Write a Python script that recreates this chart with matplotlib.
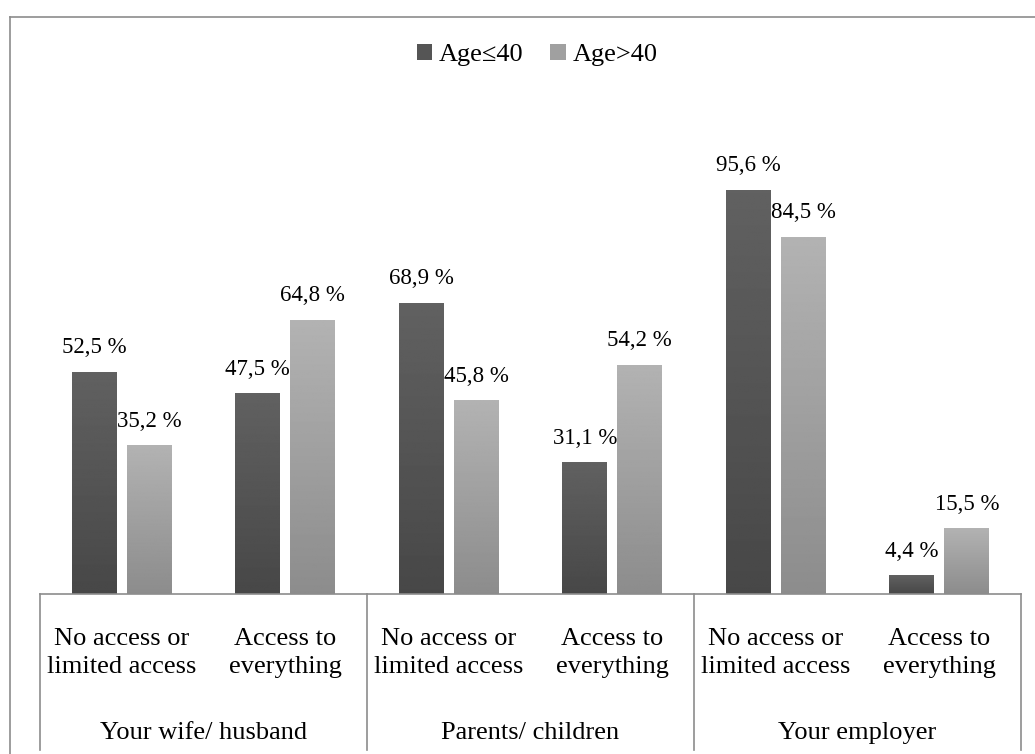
import numpy as np
import matplotlib
matplotlib.use("Agg")
from matplotlib import pyplot as plt
from matplotlib.lines import Line2D
from matplotlib.patches import Patch

plt.rcParams['font.family'] = ['Liberation Serif', 'DejaVu Serif']

# data
groups = ["Your wife/ husband", "Parents/ children", "Your employer"]
subcats = ["No access or\nlimited access", "Access to\neverything"] * 3
series_names = ["Age\u226440", "Age>40"]
young = [52.5, 47.5, 68.9, 31.1, 95.6, 4.4]
old = [35.2, 64.8, 45.8, 54.2, 84.5, 15.5]

W, H = 1035, 754
fig = plt.figure(figsize=(W / 100, H / 100), dpi=100)

# axes in pixel positions: x 40..1021, baseline y=594, 100% at y=171
ax = fig.add_axes([40 / W, 1 - 594 / H, (1021 - 40) / W, (594 - 171) / H])
ax.patch.set_alpha(0)

bw = 0.275
off = bw / 2 + 0.031
x = np.arange(len(young))

def grad_bars(xs, vals, top, bottom):
    bars = ax.bar(xs, vals, bw, color="none", edgecolor="none")
    grad = np.linspace(top, bottom, 256).reshape(-1, 1)
    for b in bars:
        x0, y0 = b.get_x(), b.get_y()
        im = ax.imshow(grad, cmap="gray", vmin=0, vmax=1, aspect="auto",
                       extent=[x0, x0 + b.get_width(), y0, y0 + b.get_height()],
                       origin="upper", zorder=2)
        im.set_clip_path(b)
    return bars

grad_bars(x - off, young, 0.38, 0.28)
grad_bars(x + off, old, 0.70, 0.55)
ax.set_xlim(-0.5, 5.5)
ax.set_ylim(0, 100)

for xi, v in zip(x - off, young):
    ax.text(xi, v + 3.2, f"{v:.1f} %".replace(".", ","), ha="center", va="bottom", fontsize=16.5)
for xi, v in zip(x + off, old):
    ax.text(xi, v + 3.2, f"{v:.1f} %".replace(".", ","), ha="center", va="bottom", fontsize=16.5)

for s in ["top", "right", "left"]:
    ax.spines[s].set_visible(False)
ax.spines["bottom"].set_color("#8c8c8c")
ax.spines["bottom"].set_linewidth(1.2)
ax.set_xticks([])
ax.set_yticks([])

# multi-level category axis
px = 100 / 423  # % per pixel
for sx in [-0.5, 1.5, 3.5, 5.5]:
    ax.plot([sx, sx], [0, -(750 - 594) * px], color="#8c8c8c", lw=1.2, clip_on=False)
for xi, lab in zip(x, subcats):
    ax.text(xi, -(653 - 594) * px, lab, ha="center", va="center", fontsize=19, linespacing=1.3)
for gi, g in enumerate(groups):
    ax.text(2 * gi + 0.5, -(733 - 594) * px, g, ha="center", va="center", fontsize=19)

# legend
handles = [Patch(facecolor="#555555"), Patch(facecolor="#a0a0a0")]
fig.legend(handles, series_names, loc="center", bbox_to_anchor=(537 / W, 1 - 55 / H),
           ncol=2, frameon=False, fontsize=19, handlelength=0.6, handleheight=0.6,
           handletextpad=0.25, columnspacing=1.0)

# outer frame (top and left edges visible)
fig.add_artist(Line2D([10 / W, 1], [1 - 17 / H, 1 - 17 / H], color="#8c8c8c", lw=1.2))
fig.add_artist(Line2D([10 / W, 10 / W], [0, 1 - 17 / H], color="#8c8c8c", lw=1.2))

fig.savefig("out.png", dpi=100)
